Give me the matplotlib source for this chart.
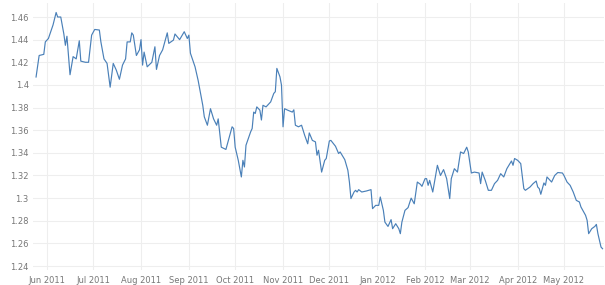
import numpy as np
import matplotlib
matplotlib.use("Agg")
import matplotlib.pyplot as plt
import matplotlib.dates as mdates
from matplotlib.ticker import FuncFormatter

# days since 2011-06-01 and the exchange rate
day = [-7, -5, -2, -1, 1, 4, 6, 7, 9, 11, 12, 13, 15, 17, 19, 21, 22, 25, 27, 29,
       31, 34, 35, 37, 39, 41, 43, 45, 47, 49, 51, 52, 54, 55, 56, 58, 60, 61, 62, 63,
       65, 68, 70, 71, 73, 75, 78, 79, 82, 83, 86, 89, 91, 92, 93, 96, 98, 101, 102, 104,
       106, 108, 110, 111, 113, 116, 117, 120, 121, 122, 124, 126, 127, 128, 129, 132, 133, 134, 135, 136,
       138, 139, 140, 142, 145, 147, 148, 149, 151, 152, 153, 154, 156, 159, 160, 161, 163, 165, 167, 169,
       170, 172, 174, 175, 176, 178, 180, 181, 183, 184, 187, 189, 190, 193, 195, 196, 197, 199, 200, 201,
       202, 204, 207, 210, 211, 213, 215, 216, 218, 219, 221, 223, 224, 226, 228, 229, 230, 232, 234, 236,
       238, 240, 242, 243, 245, 246, 247, 248, 250, 253, 255, 257, 259, 261, 262, 264, 266, 268, 270, 272,
       273, 275, 277, 280, 281, 282, 284, 286, 288, 290, 292, 294, 296, 298, 300, 301, 302, 303, 305, 307,
       309, 310, 313, 315, 317, 318, 319, 320, 322, 323, 324, 327, 329, 331, 334, 335, 337, 339, 341, 343,
       345, 346, 349, 350, 351, 353, 355, 356, 357, 359, 360]
rate = [1.407, 1.426, 1.427, 1.438, 1.441, 1.453, 1.464, 1.460, 1.460, 1.445, 1.435, 1.443, 1.409, 1.425, 1.423, 1.439, 1.421, 1.420, 1.420, 1.444,
        1.449, 1.4485, 1.438, 1.423, 1.419, 1.398, 1.419, 1.413, 1.405, 1.4175, 1.423, 1.438, 1.438, 1.446, 1.444, 1.426, 1.431, 1.440, 1.4175, 1.429,
        1.416, 1.420, 1.4337, 1.4137, 1.426, 1.431, 1.446, 1.4367, 1.4396, 1.445, 1.440, 1.447, 1.441, 1.444, 1.428, 1.416, 1.404, 1.382, 1.3718, 1.3644,
        1.379, 1.370, 1.3644, 1.370, 1.345, 1.343, 1.348, 1.363, 1.3615, 1.345, 1.3334, 1.3187, 1.3334, 1.3275, 1.3467, 1.3585, 1.3615, 1.376, 1.3748, 1.3806,
        1.3777, 1.369, 1.382, 1.3806, 1.385, 1.3925, 1.394, 1.4146, 1.4072, 1.3998, 1.363, 1.379, 1.3777, 1.376, 1.378, 1.3644, 1.363, 1.3644, 1.3556, 1.348,
        1.3576, 1.351, 1.3497, 1.3379, 1.3423, 1.323, 1.3334, 1.335, 1.3505, 1.351, 1.3458, 1.3394, 1.3408, 1.334, 1.3246, 1.3142, 1.2996, 1.3054, 1.3069, 1.3054,
        1.3075, 1.3054, 1.3063, 1.3075, 1.2907, 1.2936, 1.2936, 1.301, 1.2892, 1.2788, 1.275, 1.281, 1.273, 1.2774, 1.273, 1.2686, 1.2788, 1.2892, 1.2916, 1.300,
        1.295, 1.3142, 1.3122, 1.3104, 1.3172, 1.3172, 1.3113, 1.3157, 1.3054, 1.329, 1.320, 1.3252, 1.3172, 1.2996, 1.3172, 1.326, 1.323, 1.3408, 1.3394, 1.345,
        1.3408, 1.3222, 1.323, 1.3222, 1.3128, 1.323, 1.3157, 1.3069, 1.3069, 1.3128, 1.3157, 1.3216, 1.3187, 1.326, 1.3305, 1.3328, 1.329, 1.335, 1.3334, 1.3305,
        1.3084, 1.3069, 1.3098, 1.3128, 1.3151, 1.3098, 1.3084, 1.3034, 1.3134, 1.3113, 1.3187, 1.3142, 1.320, 1.3226, 1.3222, 1.320, 1.3142, 1.3113, 1.3054, 1.298,
        1.2966, 1.2922, 1.2848, 1.2804, 1.2686, 1.273, 1.275, 1.2768, 1.2686, 1.2568, 1.2553]

y_ticks = [1.24, 1.26, 1.28, 1.3, 1.32, 1.34, 1.36, 1.38, 1.4, 1.42, 1.44, 1.46]
month_ticks = ['2011-06-01', '2011-07-01', '2011-08-01', '2011-09-01', '2011-10-01', '2011-11-01',
               '2011-12-01', '2012-01-01', '2012-02-01', '2012-03-01', '2012-04-01', '2012-05-01']

start = np.datetime64('2011-06-01')
dates = start + np.array(day).astype('timedelta64[D]')

fig = plt.figure(figsize=(6.05, 2.85), dpi=100)
ax = fig.add_axes([0.0545, 0.0526, 0.944, 0.937])

ax.plot(dates, rate, color='#4a80b8', lw=0.85)

ax.set_xlim(start - np.timedelta64(9, 'D'), start + np.timedelta64(361, 'D'))
ax.set_ylim(1.2365, 1.4724)

ax.set_yticks(y_ticks)
ax.yaxis.set_major_formatter(FuncFormatter(lambda v, p: f'{v:g}'))
ax.set_xticks(np.array(month_ticks, dtype='datetime64[D]'))
ax.xaxis.set_major_formatter(mdates.DateFormatter('%b %Y'))

ax.grid(True, color='#eeeeee', lw=0.8)
ax.set_axisbelow(True)
for s in ax.spines.values():
    s.set_visible(False)
ax.tick_params(length=0, labelsize=6, labelcolor='#777777')
ax.tick_params(axis='x', pad=4)
ax.tick_params(axis='y', pad=3)

fig.savefig('out.png', dpi=100)
